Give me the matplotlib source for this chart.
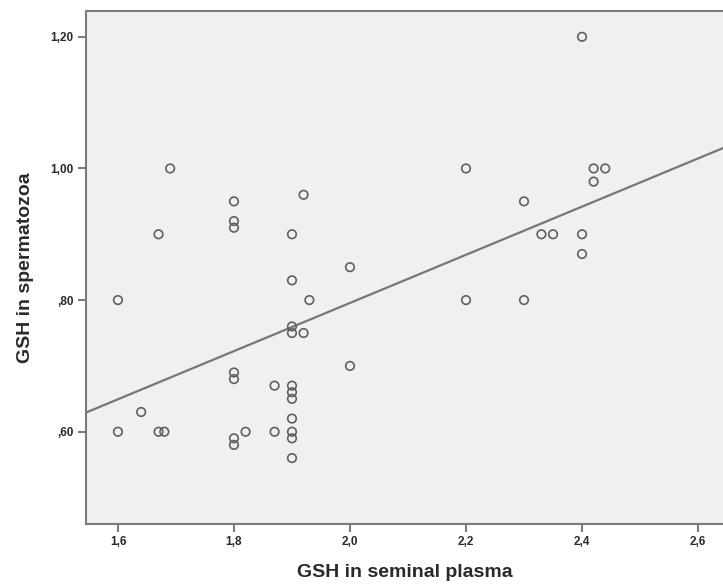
import matplotlib
matplotlib.use("Agg")
import matplotlib.pyplot as plt
import numpy as np
from matplotlib.ticker import FuncFormatter

# GSH in seminal plasma (x) vs GSH in spermatozoa (y)
plasma = [1.60, 1.60, 1.64, 1.67, 1.67, 1.68, 1.69,
          1.80, 1.80, 1.80, 1.80, 1.80, 1.80, 1.80, 1.82,
          1.87, 1.87,
          1.90, 1.90, 1.90, 1.90, 1.90, 1.90, 1.90, 1.90, 1.90, 1.90, 1.90,
          1.92, 1.92, 1.93, 2.00, 2.00,
          2.20, 2.20, 2.30, 2.30, 2.33, 2.35,
          2.40, 2.40, 2.40, 2.42, 2.42, 2.44]
sperm = [0.80, 0.60, 0.63, 0.60, 0.90, 0.60, 1.00,
         0.95, 0.92, 0.91, 0.69, 0.68, 0.59, 0.58, 0.60,
         0.67, 0.60,
         0.90, 0.83, 0.76, 0.75, 0.67, 0.66, 0.65, 0.62, 0.60, 0.59, 0.56,
         0.96, 0.75, 0.80, 0.85, 0.70,
         1.00, 0.80, 0.95, 0.80, 0.90, 0.90,
         1.20, 0.90, 0.87, 1.00, 0.98, 1.00]

xticks = [1.6, 1.8, 2.0, 2.2, 2.4, 2.6]
yticks = [0.60, 0.80, 1.00, 1.20]

plt.rcParams['font.family'] = ['Liberation Sans', 'DejaVu Sans']

fig = plt.figure(figsize=(7.23, 5.86), dpi=100)
ax = fig.add_axes([0.119, 0.106, 0.881, 0.875])
ax.set_facecolor('#eff0f0')

ax.scatter(plasma, sperm, s=38, facecolors='none', edgecolors='#606060',
           linewidths=1.2, zorder=3)

# least squares fit line over the whole x range
xlim = (1.545, 2.643)
slope, icept = np.polyfit(plasma, sperm, 1)
xs = np.array(xlim)
ax.plot(xs, icept + slope * xs, color='#777777', lw=1.6, zorder=2)

ax.set_xlim(*xlim)
ax.set_ylim(0.46, 1.239)
ax.set_xticks(xticks)
ax.set_yticks(yticks)

def comma(v, fmt):
    s = fmt.format(v).replace('.', ',')
    if s.startswith('0,'):
        s = s[1:]
    return s

ax.xaxis.set_major_formatter(FuncFormatter(lambda v, p: comma(v, '{:.1f}')))
ax.yaxis.set_major_formatter(FuncFormatter(lambda v, p: comma(v, '{:.2f}')))

for side in ['top', 'left', 'bottom']:
    ax.spines[side].set_color('#7c7c7c')
    ax.spines[side].set_linewidth(1.5)
ax.spines['right'].set_visible(False)

ax.tick_params(direction='out', length=6, width=1.5, color='#7c7c7c',
               labelsize=8.5, labelcolor='#2a2a2a', pad=3)
for lab in ax.get_xticklabels() + ax.get_yticklabels():
    lab.set_fontweight('bold')

ax.set_xlabel('GSH in seminal plasma', fontsize=14, fontweight='bold',
              color='#2a2a2a', labelpad=11)
ax.set_ylabel('GSH in spermatozoa', fontsize=14, fontweight='bold',
              color='#2a2a2a', labelpad=12)

plt.savefig('out.png', dpi=100)
